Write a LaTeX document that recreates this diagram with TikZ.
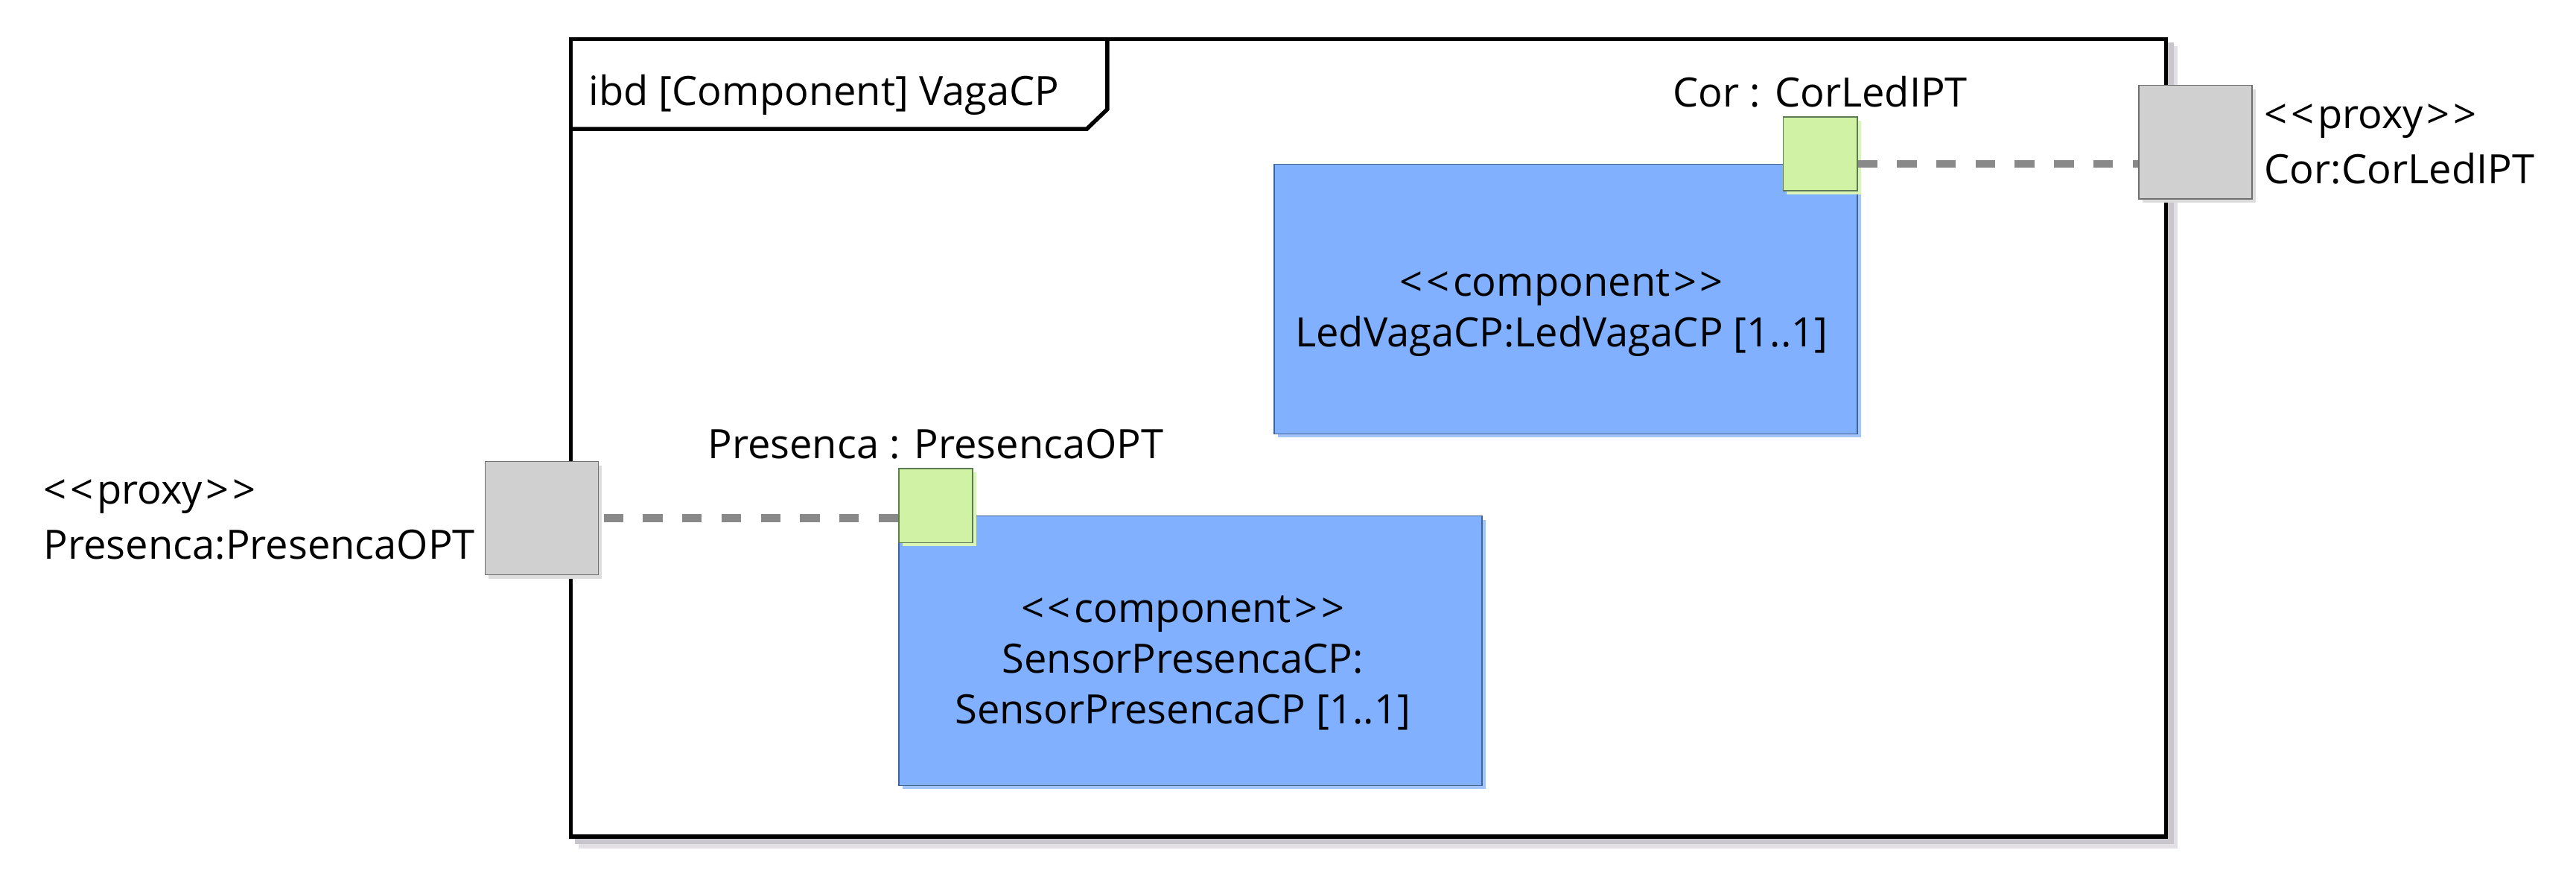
\documentclass[tikz,border=0pt]{standalone}
\usepackage{fontspec}
\setmainfont{Open Sans}
\usepackage{xcolor}
\usetikzlibrary{positioning,shadows}
\definecolor{partblue}{HTML}{80B0FF}
\definecolor{partborder}{HTML}{44638F}
\definecolor{partshadow}{HTML}{A2C5FF}
\definecolor{portgreen}{HTML}{CFF2A5}
\definecolor{portborder}{HTML}{5E7A55}
\definecolor{portshadow}{HTML}{DAF5B8}
\definecolor{proxygray}{HTML}{D0D0D0}
\definecolor{proxyborder}{HTML}{6E6E6E}
\definecolor{proxyshadow}{HTML}{DCDCDC}
\definecolor{linkgray}{HTML}{898989}
\definecolor{frameshadowA}{HTML}{C8C6CC}
\definecolor{frameshadowB}{HTML}{E2E0E4}
\newcommand{\stereo}[1]{<\kern1.2pt<\kern1.2pt#1\kern1.2pt>\kern1.2pt>}

\begin{document}
\begin{tikzpicture}[x=0.02cm,y=-0.02cm,
    font=\fontsize{14}{17.5}\selectfont,
    part/.style={draw=partborder,fill=partblue,line width=0.4pt,
      minimum width=7.1cm,minimum height=3.28cm,inner sep=0pt,
      drop shadow={shadow xshift=0.044cm,shadow yshift=-0.044cm,
        fill=partshadow,opacity=1}},
    port/.style={draw=portborder,fill=portgreen,line width=0.4pt,
      minimum size=0.9cm,inner sep=0pt,
      drop shadow={shadow xshift=0.044cm,shadow yshift=-0.044cm,
        fill=portshadow,opacity=1}},
    proxy/.style={draw=proxyborder,fill=proxygray,line width=0.4pt,
      minimum size=1.38cm,inner sep=0pt,
      drop shadow={shadow xshift=0.044cm,shadow yshift=-0.048cm,
        fill=proxyshadow,opacity=1}},
    link/.style={linkgray,line width=2.75pt,dash pattern=on 6.8pt off 6.8pt},
    lbl/.style={inner sep=0pt},
    parttext/.style={inner sep=0pt,align=center}]
  \useasboundingbox (0,0) rectangle (1568,540);
  % Rahmen des ibd mit Schatten
  \fill[frameshadowB] (352,28) rectangle (1325.5,516.2);
  \fill[frameshadowA] (350,26) rectangle (1323.2,513.7);
  \draw[line width=1.4pt,fill=white] (347.5,23.8) rectangle (1318.5,509);
  % Kopf (Reiter oben links)
  \draw[line width=1.4pt] (347.5,78.5) -- (661.5,78.5) -- (674,66.5) -- (674,23.8);
  \node[lbl,anchor=base west] (title) at (358,64.2) {ibd [Component] VagaCP};
  % Teile
  \node[part] (ledvaga) at (953,182) {};
  \node[parttext] (ledvagaTxt) at ([yshift=-0.17cm,xshift=-0.05cm]ledvaga.center)
    {\stereo{component}\\LedVagaCP:LedVagaCP [1..1]};
  \node[part] (sensor) at (724.5,396) {};
  \node[parttext] (sensorTxt) at ([yshift=-0.15cm,xshift=-0.09cm]sensor.center)
    {\stereo{component}\\SensorPresencaCP:\\SensorPresencaCP [1..1]};
  % Ports der Teile, leicht ueber die Oberkante gesetzt
  \node[port,anchor=east] (corPort) at ([yshift=0.12cm]ledvaga.north east) {};
  \node[port,anchor=west] (presPort) at ([yshift=0.12cm]sensor.north west) {};
  \node[lbl,above=0.1cm of corPort] (corPortLbl) {Cor : CorLedIPT};
  \node[lbl,above=0.1cm of presPort] (presPortLbl) {Presenca : PresencaOPT};
  % Proxy-Ports auf dem Rahmen; base = Grundlinie der zweiten Zeile
  \node[proxy] (presProxy) at (329.8,315.3) {};
  \node[proxy] (corProxy) at (1336.3,86.5) {};
  \node[lbl,anchor=base west,align=left,font=\fontsize{14}{19}\selectfont]
    (presProxyLbl) at (26.3,340) {\stereo{proxy}\\Presenca:PresencaOPT};
  \node[lbl,anchor=base west,align=left,font=\fontsize{14}{19}\selectfont]
    (corProxyLbl) at (1378,111.8) {\stereo{proxy}\\Cor:CorLedIPT};
  % Konnektoren (gestrichelt)
  \draw[link] (presPort.west |- presProxy.east) -- (presProxy.east);
  \draw[link] (corPort.east |- ledvaga.north) -- (corProxy.west |- ledvaga.north);
\end{tikzpicture}
\end{document}
